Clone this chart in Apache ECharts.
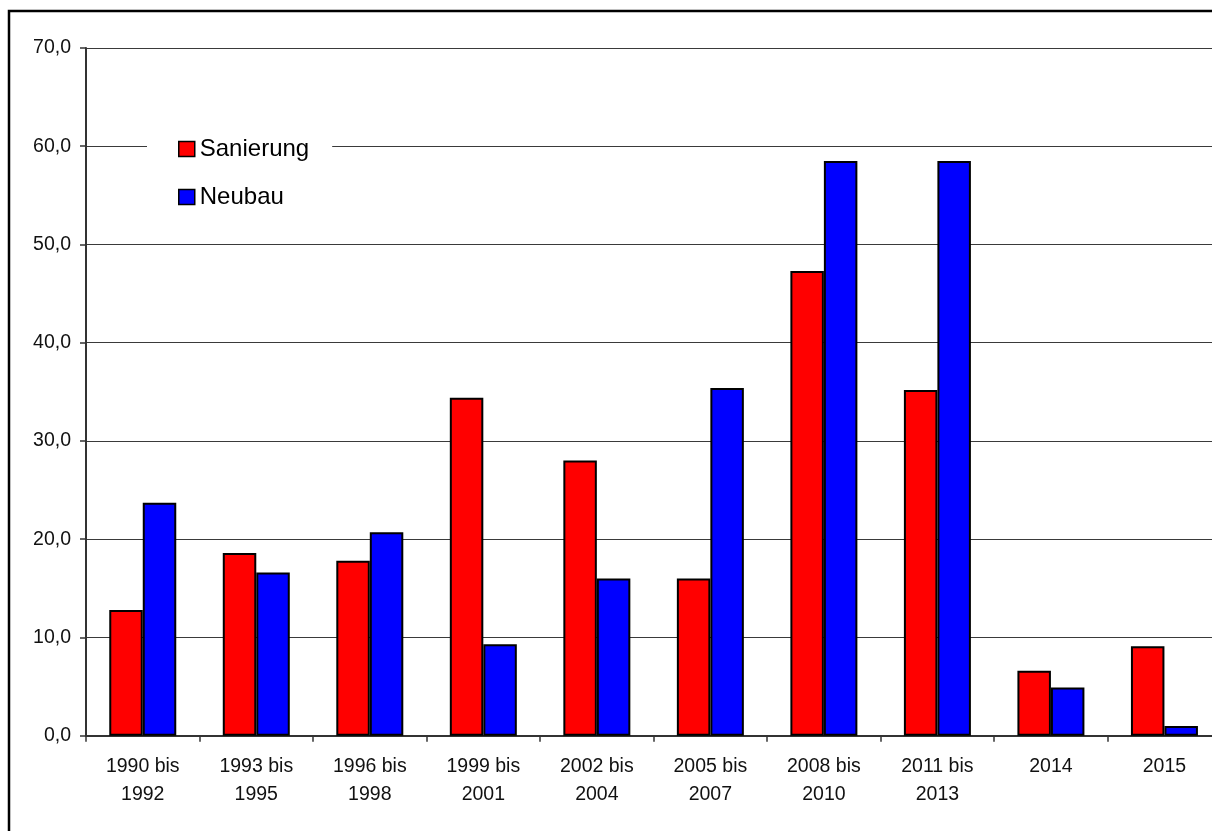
<!DOCTYPE html>
<html>
<head>
<meta charset="utf-8">
<script src="https://cdn.jsdelivr.net/npm/echarts@6/dist/echarts.min.js"></script>
<style>
html,body{margin:0;padding:0;overflow:hidden;background:#fff;}
#chart{width:1230px;height:831px;}
</style>
</head>
<body>
<div id="chart"></div>
<script>
const categories = ['1990 bis\n1992','1993 bis\n1995','1996 bis\n1998','1999 bis\n2001','2002 bis\n2004','2005 bis\n2007','2008 bis\n2010','2011 bis\n2013','2014','2015'];
const sanierung = [12.8, 18.6, 17.8, 34.4, 28.0, 16.0, 47.3, 35.2, 6.6, 9.1];
const neubau = [23.7, 16.6, 20.7, 9.3, 16.0, 35.4, 58.5, 58.5, 4.9, 1.0];
const seriesNames = ['Sanierung', 'Neubau'];

const FONT = 'Liberation Sans, Arial, sans-serif';
const chart = echarts.init(document.getElementById('chart'), null, {renderer: 'canvas'});
chart.setOption({
  animation: false,
  backgroundColor: '#fff',
  textStyle: {fontFamily: FONT},
  graphic: [{
    type: 'rect', silent: true, z: 100,
    shape: {x: 9, y: 11, width: 1400, height: 1000},
    style: {fill: 'none', stroke: '#000', lineWidth: 2.5}
  }],
  grid: {left: 86, top: 48, bottom: 95.3, right: 8.8, containLabel: false},
  legend: {
    orient: 'vertical',
    left: 147, top: 129,
    backgroundColor: '#fff',
    padding: [8, 23, 8, 31],
    itemWidth: 16, itemHeight: 15, itemGap: 24,
    icon: 'rect',
    itemStyle: {borderColor: '#000', borderWidth: 1.5},
    textStyle: {fontFamily: FONT, fontSize: 24, color: '#000', lineHeight: 24},
    data: seriesNames
  },
  xAxis: {
    type: 'category',
    data: categories,
    axisLine: {lineStyle: {color: '#333', width: 2}},
    axisTick: {show: true, length: 6, lineStyle: {color: '#333', width: 1.5}},
    axisLabel: {fontFamily: FONT, fontSize: 19.5, color: '#111', margin: 17, lineHeight: 28, interval: 0},
    splitLine: {show: false}
  },
  yAxis: {
    type: 'value',
    min: 0, max: 70, interval: 10,
    axisLine: {show: true, lineStyle: {color: '#333', width: 2}},
    axisTick: {show: true, length: 6, lineStyle: {color: '#333', width: 1.5}},
    axisLabel: {fontFamily: FONT, fontSize: 19.5, color: '#111', margin: 15,
      formatter: v => v.toFixed(1).replace('.', ',')},
    splitLine: {show: true, lineStyle: {color: '#3a3a3a', width: 1.2}}
  },
  series: [
    {name: seriesNames[0], type: 'bar', data: sanierung, barWidth: 33.5, barGap: '0%',
     itemStyle: {color: '#FF0000', borderColor: '#000', borderWidth: 2}},
    {name: seriesNames[1], type: 'bar', data: neubau, barWidth: 33.5, barGap: '0%',
     itemStyle: {color: '#0000FF', borderColor: '#000', borderWidth: 2}}
  ]
});
</script>
</body>
</html>
